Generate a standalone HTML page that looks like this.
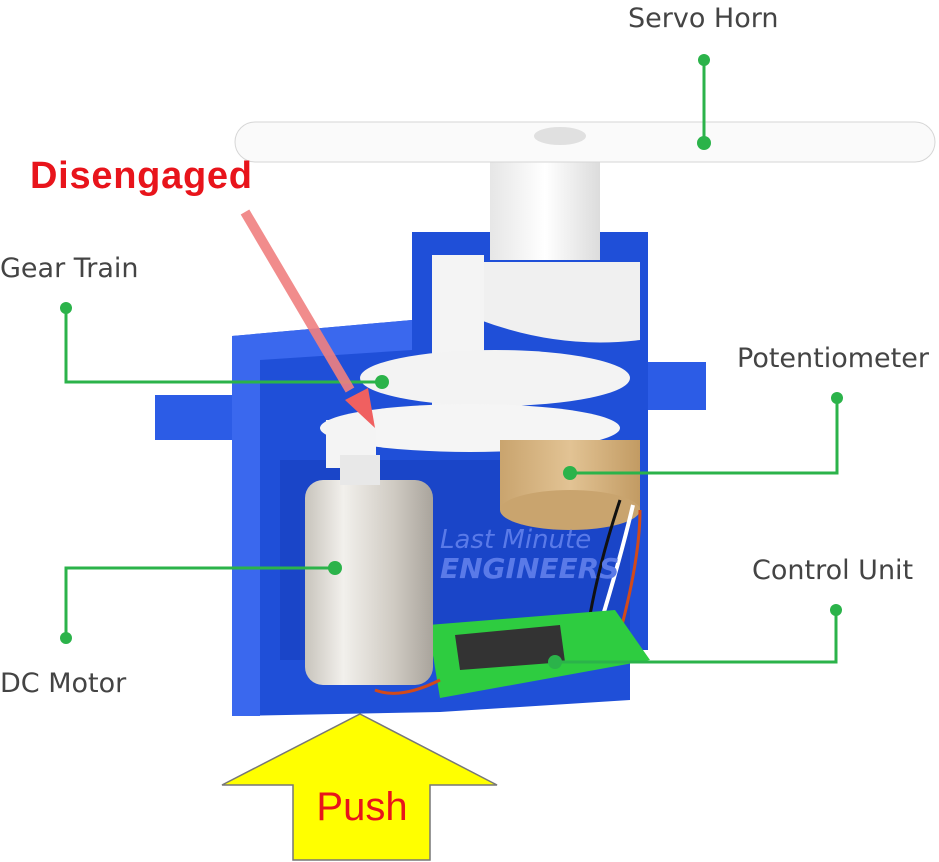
<!DOCTYPE html>
<html><head><style>
html,body{margin:0;padding:0;background:#fff;}
svg{display:block}
.lab{font-family:"DejaVu Sans","Liberation Sans",sans-serif}
.lib{font-family:"Liberation Sans",sans-serif}
</style></head><body>
<svg width="939" height="862" viewBox="0 0 939 862" xmlns="http://www.w3.org/2000/svg">
<defs>
<linearGradient id="mot" x1="0" x2="1"><stop offset="0" stop-color="#c8c4bc"/><stop offset="0.3" stop-color="#f2f0ec"/><stop offset="0.7" stop-color="#cfcac2"/><stop offset="1" stop-color="#a9a49c"/></linearGradient>
<linearGradient id="pot" x1="0" x2="1"><stop offset="0" stop-color="#c9a46e"/><stop offset="0.5" stop-color="#e2c394"/><stop offset="1" stop-color="#c29b63"/></linearGradient>
<linearGradient id="sh" x1="0" x2="1"><stop offset="0" stop-color="#e6e6e6"/><stop offset="0.5" stop-color="#fff"/><stop offset="1" stop-color="#dcdcdc"/></linearGradient>
</defs>
<path d="M232 336 L412 320 L412 232 L648 232 L648 650 L630 650 L630 700 L440 712 L232 716 Z" fill="#1f4fd8"/>
<rect x="155" y="395" width="80" height="45" fill="#2c5ce6"/>
<rect x="648" y="362" width="58" height="48" fill="#2c5ce6"/>
<path d="M232 336 L412 320 L412 350 L260 360 L260 716 L232 716 Z" fill="#3a68ee"/>
<rect x="280" y="460" width="350" height="200" fill="#1a45c8"/>
<rect x="490" y="150" width="110" height="110" fill="url(#sh)"/>
<rect x="235" y="122" width="700" height="40" rx="20" fill="#fafafa" stroke="#d6d6d6"/>
<ellipse cx="560" cy="136" rx="26" ry="9" fill="#e0e0e0"/>
<path d="M480 262 L640 262 L640 340 Q560 350 480 320 Z" fill="#f0f0f0"/>
<rect x="432" y="255" width="52" height="150" fill="#f4f4f4"/>
<ellipse cx="495" cy="378" rx="135" ry="28" fill="#f3f3f3"/>
<ellipse cx="470" cy="428" rx="150" ry="24" fill="#f5f5f5"/>
<rect x="326" y="420" width="50" height="48" fill="#f4f4f4"/>
<rect x="500" y="440" width="140" height="70" fill="url(#pot)"/>
<ellipse cx="570" cy="510" rx="70" ry="20" fill="#c9a46e"/>
<path d="M620 500 Q600 560 590 615" stroke="#111" stroke-width="3" fill="none"/>
<path d="M633 505 Q620 560 600 625" stroke="#fff" stroke-width="4" fill="none"/>
<path d="M640 510 Q640 560 618 640" stroke="#d24a1a" stroke-width="3" fill="none"/>
<path d="M428 625 L615 610 L650 660 L440 698 Z" fill="#2ecc40"/>
<path d="M455 635 L560 625 L565 662 L460 670 Z" fill="#333"/>
<rect x="305" y="480" width="128" height="205" rx="18" fill="url(#mot)"/>
<rect x="340" y="455" width="40" height="30" fill="#e8e8e8"/>
<path d="M375 690 Q400 700 440 680" stroke="#d24a1a" stroke-width="3" fill="none"/>
<text class="lab" x="440" y="548" font-size="26" font-style="italic" fill="#5a7ae8">Last Minute</text>
<text class="lab" x="440" y="578" font-size="28" font-style="italic" font-weight="bold" fill="#5a7ae8">ENGINEERS</text>
<g stroke="#2bb34a" stroke-width="3" fill="none">
<path d="M704 60 V143"/><path d="M66 308 V382 H382"/><path d="M837 398 V473 H570"/><path d="M836 610 V662 H555"/><path d="M66 638 V568 H335"/>
</g>
<g fill="#2bb34a">
<circle cx="704" cy="60" r="6"/><circle cx="704" cy="143" r="7"/>
<circle cx="66" cy="308" r="6"/><circle cx="382" cy="382" r="7"/>
<circle cx="837" cy="398" r="6"/><circle cx="570" cy="473" r="7"/>
<circle cx="836" cy="610" r="6"/><circle cx="555" cy="662" r="7"/>
<circle cx="66" cy="638" r="6"/><circle cx="335" cy="568" r="7"/>
</g>
<g class="lab" font-size="27" fill="#444">
<text x="628" y="27">Servo Horn</text>
<text x="0" y="277">Gear Train</text>
<text x="737" y="367">Potentiometer</text>
<text x="752" y="579">Control Unit</text>
<text x="0" y="692">DC Motor</text>
</g>
<text class="lib" x="30" y="188" font-size="38" font-weight="bold" fill="#e8141b" textLength="222">Disengaged</text>
<path d="M245 212 L350 390" stroke="#f08080" stroke-width="10" opacity="0.9"/>
<polygon points="375,428 345,400 368,388" fill="#f06060"/>
<polygon points="360,714 497,785 430,785 430,860 293,860 293,785 222,785" fill="#ffff00" stroke="#777" stroke-width="1.5"/>
<text class="lib" x="362" y="820" font-size="40" fill="#e8141b" text-anchor="middle">Push</text>
</svg>
</body></html>
